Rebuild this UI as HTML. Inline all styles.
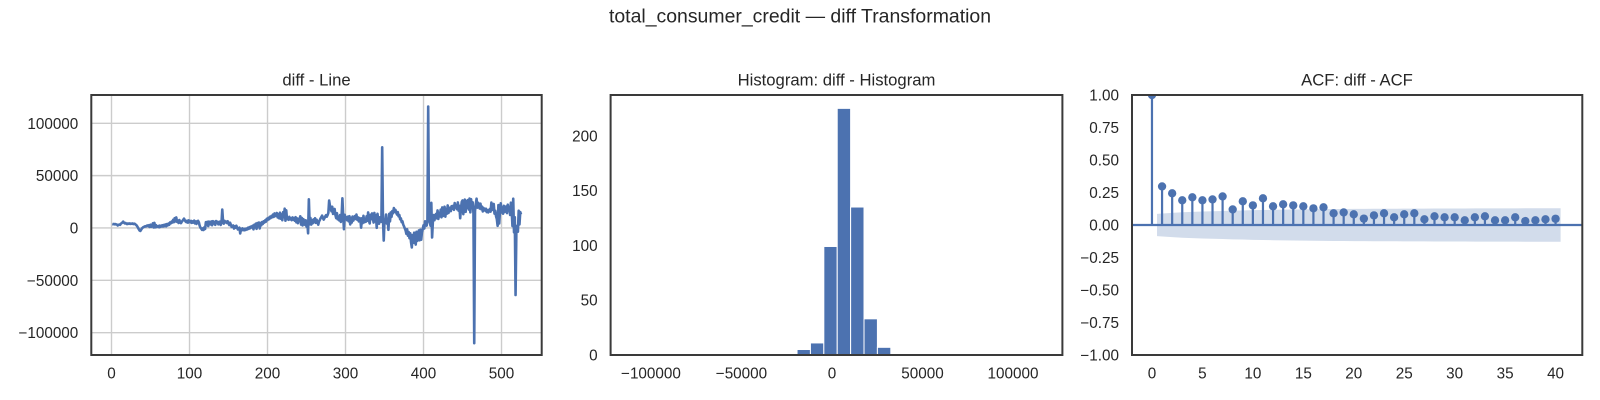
<!DOCTYPE html>
<html lang="en">
<head>
<meta charset="utf-8">
<title>total_consumer_credit — diff Transformation</title>
<style>
html,body{margin:0;padding:0;background:#fff;width:1600px;height:400px;overflow:hidden}
svg{display:block}
text{font-family:"Liberation Sans",Arial,sans-serif;fill:#262626}
</style>
</head>
<body>
<svg id="chart" width="1600" height="400" viewBox="0 0 1600 400" xmlns="http://www.w3.org/2000/svg">
  <defs>
    <clipPath id="clip-line"><rect x="91.3" y="95" width="450.4" height="260"/></clipPath>
    <clipPath id="clip-hist"><rect x="610.6" y="95" width="451.8" height="260"/></clipPath>
    <clipPath id="clip-acf"><rect x="1132" y="95" width="450.3" height="260"/></clipPath>
  </defs>
  <text x="800" y="22.5" font-size="19.44" text-anchor="middle">total_consumer_credit — diff Transformation</text>
  <text x="316.5" y="85.5" font-size="16.67" text-anchor="middle">diff - Line</text>
  <text x="836.5" y="85.5" font-size="16.67" text-anchor="middle">Histogram: diff - Histogram</text>
  <text x="1357" y="85.5" font-size="16.67" text-anchor="middle">ACF: diff - ACF</text>
  <g id="line-panel"></g>
  <g id="hist-panel"></g>
  <g id="acf-panel"></g>
</svg>
<script>
/* Line panel data (values in thousands, index starts at 1) */
const lineValues = [
3.8,3.6,3.9,3.5,3.7,3.4,3.2,2.4,2.9,3.3,3.0,4.1,4.6,5.2,6.1,5.0,4.4,4.8,4.1,3.7,4.3,4.0,4.4,3.9,4.2,
4.0,4.3,3.8,4.1,3.9,3.2,2.6,1.5,0.2,-1.2,-2.4,-2.8,-1.6,-0.4,0.3,0.9,1.2,1.6,1.4,2.1,2.4,1.7,2.6,1.0,3.1,
1.2,1.8,4.4,0.5,4.9,0.6,2.8,0.9,1.3,1.9,0.7,2.3,1.1,1.6,2.6,1.4,2.9,1.8,3.4,1.6,3.7,2.5,4.2,3.1,5.3,
4.4,6.1,5.2,7.8,5.6,9.4,6.3,10.1,5.9,7.2,4.8,7.6,5.5,4.6,5.9,6.8,7.9,8.9,7.4,6.1,5.6,6.9,5.1,7.3,6.0,
5.4,6.8,4.9,6.3,5.2,7.1,4.4,6.2,3.9,6.6,6.8,5.4,2.2,0.4,-0.6,-1.8,-0.4,-1.9,0.6,-0.9,5.6,4.6,5.9,1.8,6.1,
5.2,3.4,6.3,2.6,6.5,4.3,5.9,3.0,6.6,4.9,6.0,3.5,5.5,6.1,2.9,4.8,17.6,6.2,4.1,6.8,5.4,6.1,4.7,6.4,4.3,
2.8,5.0,3.2,1.0,1.9,2.4,-0.6,1.6,0.2,2.2,0.4,-1.4,-0.8,0.3,-5.2,-0.9,-2.3,-0.4,-1.7,-2.2,-0.8,-1.9,-0.6,-1.3,0.3,
-0.8,0.9,-0.2,1.4,0.6,2.2,-1.3,3.0,0.5,4.1,-0.8,4.7,1.6,5.2,-0.4,4.8,2.6,5.6,3.9,6.4,5.2,7.3,6.1,8.8,7.5,
9.6,8.4,10.7,9.4,11.5,10.2,12.8,10.6,13.9,11.4,12.6,14.3,10.1,13.2,9.2,14.6,8.9,12.9,7.4,15.1,10.4,18.4,6.9,16.9,8.5,
9.9,7.8,10.6,8.3,9.2,7.5,10.1,8.0,9.4,6.9,10.3,5.4,9.1,4.6,8.7,6.5,11.2,3.2,9.6,2.4,8.4,5.1,3.1,7.3,1.2,
6.4,-5.1,27.4,3.5,9.6,3.2,7.4,4.5,8.2,5.6,9.3,4.9,7.8,5.4,3.2,6.1,7.6,9.2,10.5,11.8,9.6,8.0,9.4,11.0,12.2,
10.8,12.3,14.5,26.2,21.4,18.6,15.9,20.3,13.4,16.1,18.2,12.6,9.4,14.1,8.3,10.9,7.2,12.4,5.8,11.5,28.3,10.6,-1.2,12.6,8.7,
10.4,7.5,10.8,6.4,11.3,3.4,9.6,5.2,10.9,7.1,9.3,11.4,8.6,12.8,7.9,10.2,6.3,9.5,8.1,0.3,9.2,4.6,11.6,5.4,8.3,
5.9,11.2,6.8,14.9,7.2,4.3,12.6,8.4,13.9,9.5,5.2,14.4,6.3,12.1,0.1,13.5,7.6,4.1,10.2,7.3,5.9,77.0,9.5,-12.0,8.1,
6.5,12.8,4.2,8.6,-1.8,13.4,6.3,14.9,10.6,16.2,14.1,19.0,15.4,17.3,14.6,12.9,15.2,11.1,12.4,8.3,9.2,5.6,6.4,3.2,1.6,
-0.4,-2.3,-5.6,-1.2,-7.4,-3.9,-9.8,-5.1,-13.6,-18.6,-6.8,-14.2,-4.5,-10.3,-15.8,-3.6,-12.4,-7.2,-2.3,-11.8,-1.6,-11.2,-4.1,-0.9,2.6,
-0.5,6.4,3.1,2.3,7.2,116.0,8.3,5.6,2.1,24.0,-9.0,6.1,12.3,7.4,11.9,13.4,9.3,16.8,8.6,14.2,11.1,17.5,10.2,19.6,11.5,
15.3,20.3,10.8,18.1,13.6,21.6,14.3,17.2,19.4,16.1,20.8,18.4,21.2,17.3,23.8,19.5,22.0,17.9,24.4,16.5,21.2,9.3,18.6,24.9,26.3,
13.2,22.6,27.1,15.4,25.8,19.3,26.7,17.6,28.1,14.9,27.5,19.8,24.6,14.2,-110.0,16.3,22.8,28.0,19.4,24.1,21.3,18.6,23.2,17.9,20.4,
15.8,19.1,17.3,16.6,18.4,15.2,17.1,14.9,16.5,18.2,15.6,24.3,17.2,19.8,22.9,13.7,16.4,11.2,8.4,2.1,21.9,4.3,15.4,23.6,14.8,
19.7,13.6,21.2,15.3,18.1,20.5,14.2,22.3,16.8,20.1,12.4,24.2,17.6,1.8,28.0,-4.1,10.3,-64.0,-4.2,2.1,-3.5,16.5,3.4,15.2,13.0
];
const lineXTicks = [0,100,200,300,400,500];
const lineXTickLabels = ["0","100","200","300","400","500"];
const lineYTicks = [100,50,0,-50,-100];
const lineYTickLabels = ["100000","50000","0","−50000","−100000"];

/* Histogram panel data */
const histCounts = [1,0,0,0,0,1,0,0,0,0,0,0,5,11,99,225,135,33,7,0,0,0,0,0,1,0,0,0,0,1];
const histFirstEdge = -108100;
const histBinWidth = 7400;
const histXTicks = [-100000,-50000,0,50000,100000];
const histXTickLabels = ["−100000","−50000","0","50000","100000"];
const histYTicks = [0,50,100,150,200];
const histYTickLabels = ["0","50","100","150","200"];

/* ACF panel data (lag 0 first) */
const acfValues = [1,0.297,0.244,0.19,0.213,0.19,0.197,0.22,0.12,0.182,0.151,0.205,0.144,0.159,0.151,0.144,0.128,0.136,0.09,0.097,0.082,0.049,0.074,0.09,0.059,0.082,0.09,0.044,0.067,0.059,0.059,0.036,0.059,0.067,0.036,0.036,0.059,0.03,0.036,0.044,0.048];
const acfConfidence = [0.086,0.093,0.098,0.101,0.104,0.106,0.108,0.111,0.112,0.114,0.115,0.117,0.118,0.119,0.12,0.121,0.122,0.123,0.123,0.124,0.124,0.125,0.125,0.125,0.126,0.126,0.126,0.127,0.127,0.127,0.127,0.128,0.128,0.128,0.128,0.128,0.129,0.129,0.129,0.129];
const acfXTicks = [0,5,10,15,20,25,30,35,40];
const acfXTickLabels = ["0","5","10","15","20","25","30","35","40"];
const acfYTicks = [1,0.75,0.5,0.25,0,-0.25,-0.5,-0.75,-1];
const acfYTickLabels = ["1.00","0.75","0.50","0.25","0.00","−0.25","−0.50","−0.75","−1.00"];

const NS = "http://www.w3.org/2000/svg";
const BLUE = "#4c72b0";
const TOP = 95, BOTTOM = 355;

function scale(d0, d1, r0, r1){ return v => r0 + (v - d0) * (r1 - r0) / (d1 - d0); }
function make(tag, attrs, parent){
  const el = document.createElementNS(NS, tag);
  for (const k in attrs) el.setAttribute(k, attrs[k]);
  parent.appendChild(el);
  return el;
}
function drawTickLabels(parent, left, xTicks, xLabels, yTicks, yLabels, x, y, prefix){
  xTicks.forEach((t, i) => {
    const el = make("text", {x: x(t), y: 378.5, "font-size": 15.28, "text-anchor": "middle"}, parent);
    el.textContent = xLabels[i];
    
    
  });
  yTicks.forEach((t, i) => {
    const el = make("text", {x: left - 13, y: y(t) + 5.5, "font-size": 15.28, "text-anchor": "end"}, parent);
    el.textContent = yLabels[i];
    
    
  });
}
function drawFrame(parent, left, right, prefix){
  const el = make("rect", {x: left, y: TOP, width: right - left, height: BOTTOM - TOP, fill: "none", stroke: "#3a3a3a", "stroke-width": 2}, parent);
  
  
}

/* Line panel */
(function(){
  const g = document.getElementById("line-panel");
  const left = 91.3, right = 541.7;
  const x = scale(-25.9, 551.5, left, right);
  const y = scale(-121.3, 127, BOTTOM, TOP);
  lineXTicks.forEach(t => {
    const el = make("line", {x1: x(t), x2: x(t), y1: TOP, y2: BOTTOM, stroke: "#cccccc", "stroke-width": 1.39}, g);
    
    
  });
  lineYTicks.forEach(t => {
    const el = make("line", {x1: left, x2: right, y1: y(t), y2: y(t), stroke: "#cccccc", "stroke-width": 1.39}, g);
    
    
  });
  const d = lineValues.map((v, i) => (i ? "L" : "M") + x(i + 1).toFixed(2) + " " + y(v).toFixed(2)).join("");
  const path = make("path", {d: d, fill: "none", stroke: BLUE, "stroke-width": 2.6, "stroke-linejoin": "round", "clip-path": "url(#clip-line)"}, g);
  
  
  drawFrame(g, left, right, 'line');
  drawTickLabels(g, left, lineXTicks, lineXTickLabels, lineYTicks, lineYTickLabels, x, y, 'line');
})();

/* Histogram panel */
(function(){
  const g = document.getElementById("hist-panel");
  const left = 610.6, right = 1062.4;
  const x = scale(-122300, 127300, left, right);
  const y = scale(0, 237.2, BOTTOM, TOP);
  histCounts.forEach((c, k) => {
    if (!c) return;
    const x0 = x(histFirstEdge + k * histBinWidth), x1 = x(histFirstEdge + (k + 1) * histBinWidth);
    const el = make("rect", {x: x0, y: y(c), width: x1 - x0, height: BOTTOM - y(c), fill: BLUE, stroke: "#ffffff", "stroke-width": 1, "clip-path": "url(#clip-hist)"}, g);
    
    
  });
  drawFrame(g, left, right, 'histogram');
  drawTickLabels(g, left, histXTicks, histXTickLabels, histYTicks, histYTickLabels, x, y, 'histogram');
})();

/* ACF panel */
(function(){
  const g = document.getElementById("acf-panel");
  const left = 1132, right = 1582.3;
  const x = scale(-1.98, 42.65, left, right);
  const y = scale(-1, 1, BOTTOM, TOP);
  const clip = "url(#clip-acf)";
  const n = acfConfidence.length;
  const lagAt = i => i === 0 ? 0.5 : (i === n - 1 ? n + 0.5 : i + 1);
  let upper = "", lower = "";
  acfConfidence.forEach((c, i) => {
    upper += (i ? "L" : "M") + x(lagAt(i)).toFixed(2) + " " + y(c).toFixed(2);
  });
  for (let i = n - 1; i >= 0; i--) {
    lower += "L" + x(lagAt(i)).toFixed(2) + " " + y(-acfConfidence[i]).toFixed(2);
  }
  const band = make("path", {d: upper + lower + "Z", fill: BLUE, "fill-opacity": 0.25, stroke: "none", "clip-path": clip}, g);
  
  
  const zero = make("line", {x1: left, x2: right, y1: y(0), y2: y(0), stroke: BLUE, "stroke-width": 2.2}, g);
  
  
  acfValues.forEach((v, lag) => {
    const stem = make("line", {x1: x(lag), x2: x(lag), y1: y(0), y2: y(v), stroke: BLUE, "stroke-width": 2.2, "clip-path": clip}, g);
    
    
  });
  const markers = make("g", {"clip-path": clip}, g);
  
  
  acfValues.forEach((v, lag) => {
    const dot = make("circle", {cx: x(lag), cy: y(v), r: 4.17, fill: BLUE}, markers);
    
    
  });
  drawFrame(g, left, right, 'acf');
  drawTickLabels(g, left, acfXTicks, acfXTickLabels, acfYTicks, acfYTickLabels, x, y, 'acf');
})();
</script>
</body>
</html>
